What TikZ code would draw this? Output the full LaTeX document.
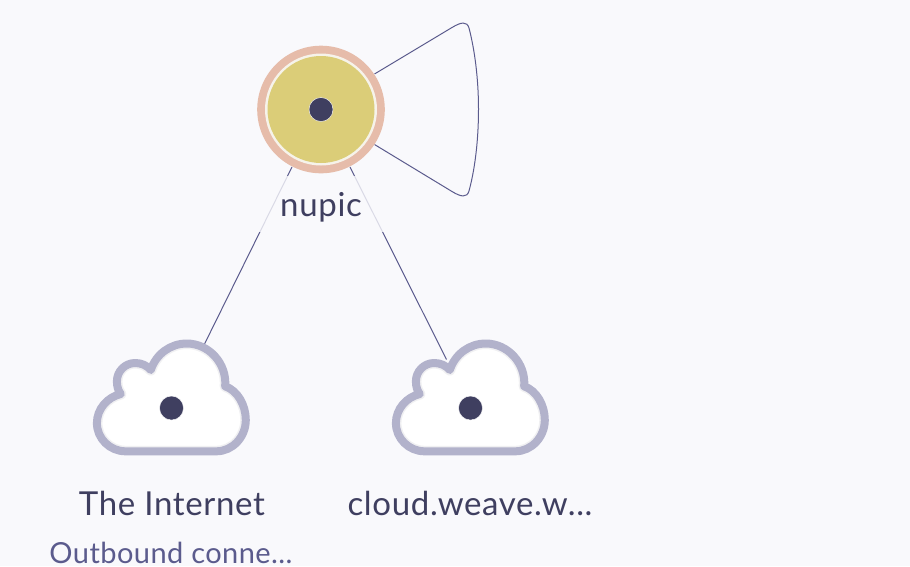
\documentclass[tikz,border=0pt]{standalone}
\usepackage{fontspec}
\setmainfont{Lato}
\newfontfamily\mainlab[LetterSpace=2]{Lato}
\newfontfamily\sublab[LetterSpace=1.5]{Lato}
\definecolor{pagebg}{HTML}{F9F9FC}
\definecolor{inkdark}{HTML}{3F3F60}
\definecolor{inkline}{HTML}{5B5B8D}
\definecolor{ringcol}{HTML}{E6BCAA}
\definecolor{gapcol}{HTML}{F6F3EA}
\definecolor{fillcol}{HTML}{DBCD78}
\definecolor{cloudcol}{HTML}{B2B2CB}
\definecolor{cloudin}{HTML}{F0F0F2}
\tikzset{
  edgeline/.style={draw=inkline,line width=1pt},
  dotnode/.style={circle,fill=inkdark,draw=white,line width=0.4pt,minimum size=24pt,inner sep=0pt},
  mainlabel/.style={anchor=base,inner sep=0pt,text=inkdark,font=\mainlab\fontsize{33}{38}\selectfont},
  sublabel/.style={anchor=base,inner sep=0pt,text=inkline,font=\sublab\fontsize{29}{34}\selectfont},
  pics/cloudshape/.style={code={
    \def\cloudpath{(-46,43.3) .. controls (-61.6,43.3) and (-74.6,30.6) .. (-74.6,15)
      .. controls (-74.6,1) and (-64,-11) .. (-50.7,-14)
      .. controls (-53.5,-17.5) and (-54.6,-22) .. (-54.6,-26.7)
      .. controls (-54.6,-36.8) and (-46.4,-45) .. (-36.3,-45)
      .. controls (-30,-45) and (-24.5,-42.5) .. (-20.7,-38)
      .. controls (-15.5,-54) and (-1,-64.5) .. (15.3,-64.5)
      .. controls (37,-64.5) and (55.5,-45) .. (53.7,-21.7)
      .. controls (66,-17.5) and (74.3,-3) .. (74.3,12)
      .. controls (74.3,29) and (61,43.3) .. (45,43.3) -- cycle}
    \fill[white] \cloudpath;
    \begin{scope}
      \clip \cloudpath;
      \draw[cloudin,line width=11pt,line join=round] \cloudpath;
    \end{scope}
    \draw[cloudcol,line width=8pt,line join=round] \cloudpath;
  }}
}
\begin{document}
\begin{tikzpicture}[x=1pt,y=-1pt]
\useasboundingbox (0,0) rectangle (910,566);
\fill[pagebg] (0,0) rectangle (910,566);
% anchors of connectors
\coordinate (nupicA) at (292,167);
\coordinate (nupicB) at (350,167);
\coordinate (netEnd) at (204.5,344);
\coordinate (weaveEnd) at (446.5,359.5);
\coordinate (loopA) at (374.5,74);
\coordinate (loopB) at (374.5,144.5);
% connectors
\draw[edgeline] (nupicA) -- (netEnd);
\draw[edgeline] (nupicB) -- (weaveEnd);
\draw[edgeline] (loopA) -- (452,27.5) .. controls (461,22) and (467,21) .. (469,28)
  .. controls (476,55) and (478.5,85) .. (478.5,109)
  .. controls (478.5,135) and (476,165) .. (469,191)
  .. controls (467,198) and (461,197) .. (452,191.5) -- (loopB);
% label veil
\fill[pagebg,opacity=0.8] (258,176) rectangle (384,232);
% nupic node
\node[circle,fill=ringcol,minimum size=127.6pt,inner sep=0pt] (nupicRing) at (321,109.5) {};
\node[circle,fill=gapcol,minimum size=112pt,inner sep=0pt] (nupicGap) at (321,109.5) {};
\node[circle,fill=fillcol,minimum size=107pt,inner sep=0pt] (nupicFill) at (321,109.5) {};
\node[dotnode] (nupicDot) at (321,109.5) {};
% clouds
\pic at (171.5,408) {cloudshape};
\pic at (470.5,408) {cloudshape};
\node[dotnode] (netDot) at (171.5,408) {};
\node[dotnode] (weaveDot) at (470.5,408) {};
% labels
\node[mainlabel] (nupicLabel) at (321,216.5) {nupic};
\node[mainlabel] (netLabel) at (172,515) {The Internet};
\node[mainlabel] (weaveLabel) at (470,515) {cloud.weave.w...};
\node[sublabel] (netSub) at (171,563) {Outbound conne...};
\end{tikzpicture}
\end{document}
